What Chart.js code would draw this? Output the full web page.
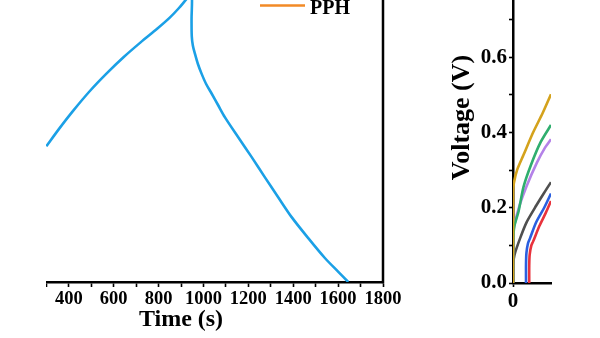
<!DOCTYPE html>
<html>
<head>
<meta charset="utf-8">
<script src="https://cdn.jsdelivr.net/npm/chart.js@4/dist/chart.umd.min.js"></script>
<style>
  html, body { margin: 0; padding: 0; background: #fff; width: 600px; height: 338px; overflow: hidden; position: relative; }
  #leftWrap { position: absolute; left: 46px; top: 0; width: 380px; height: 338px; overflow: hidden; }
  #rightWrap { position: absolute; left: 426px; top: 0; width: 174px; height: 338px; overflow: hidden; }
  canvas { position: absolute; left: 0; top: 0; }
</style>
</head>
<body>
<div id="leftWrap"><canvas id="gcdLeft" width="459" height="362"></canvas></div>
<div id="rightWrap"><canvas id="gcdRight" width="116" height="376"></canvas></div>
<script>
// ---- charge / discharge curve (left panel) ----
const leftTime = [300, 360, 420, 495, 570, 645, 720, 795, 850, 890, 925, 947, 947, 948, 953, 962, 975, 992, 1012, 1037, 1065, 1096, 1155, 1215, 1274, 1333, 1393, 1467, 1541, 1601, 1645];
const leftVoltage = [0.362, 0.411, 0.457, 0.510, 0.557, 0.600, 0.639, 0.676, 0.705, 0.730, 0.755, 0.77, 0.70, 0.655, 0.63, 0.609, 0.582, 0.555, 0.528, 0.502, 0.472, 0.439, 0.386, 0.333, 0.279, 0.226, 0.173, 0.117, 0.064, 0.027, 0.0];
const legendLabel = 'PPH';

// ---- charging curves (right panel) ----
const goldTime = [0, 0.5, 4, 19, 49, 94, 139, 178];
const goldVoltage = [0, 0.24, 0.265, 0.30, 0.34, 0.40, 0.452, 0.502];
const greenTime = [0, 1, 6, 26, 49, 85, 130, 178];
const greenVoltage = [0, 0.11, 0.15, 0.19, 0.255, 0.315, 0.375, 0.42];
const purpleTime = [0, 1, 7, 30, 64, 112, 146, 178];
const purpleVoltage = [0, 0.13, 0.155, 0.205, 0.258, 0.32, 0.356, 0.382];
const grayTime = [0, 1, 7, 34, 64, 109, 146, 178];
const grayVoltage = [0, 0.05, 0.075, 0.12, 0.162, 0.206, 0.24, 0.268];
const blueTime = [61, 61, 63, 70, 79, 109, 146, 178];
const blueVoltage = [0, 0.05, 0.08, 0.105, 0.118, 0.162, 0.2, 0.238];
const redTime = [76, 76, 78, 86, 94, 124, 154, 178];
const redVoltage = [0, 0.045, 0.075, 0.1, 0.11, 0.152, 0.187, 0.218];

const SERIF = "'Liberation Serif', 'Times New Roman', serif";
const pts = (xs, ys) => xs.map((x, i) => ({ x, y: ys[i] }));

// place the canvas so that the plot's lower-left corner lands on a given page point
function place(chart, wrapLeft, pageX, pageY) {
  const a = chart.chartArea;
  chart.canvas.style.left = (pageX - wrapLeft - a.left) + 'px';
  chart.canvas.style.top = (pageY - a.bottom) + 'px';
}

// right-hand frame line of the left panel
const frameRight = {
  id: 'frameRight',
  afterDraw(c) {
    const { ctx, chartArea: a } = c;
    ctx.save();
    ctx.strokeStyle = '#000';
    ctx.lineWidth = 2.5;
    ctx.beginPath();
    ctx.moveTo(a.right, a.top);
    ctx.lineTo(a.right, a.bottom + 1.25);
    ctx.stroke();
    ctx.restore();
  }
};

// legend entry in the upper right of the left panel
const legendEntry = {
  id: 'legendEntry',
  afterDraw(c) {
    const ds = c.data.datasets.find(d => d.label === legendLabel);
    if (!ds) return;
    const { ctx, chartArea: a } = c;
    ctx.save();
    ctx.strokeStyle = ds.borderColor;
    ctx.lineWidth = 2.7;
    ctx.beginPath();
    ctx.moveTo(a.right - 123, a.top + 23.5);
    ctx.lineTo(a.right - 78, a.top + 23.5);
    ctx.stroke();
    ctx.fillStyle = '#000';
    ctx.font = 'bold 20px ' + SERIF;
    ctx.textBaseline = 'alphabetic';
    ctx.textAlign = 'left';
    ctx.fillText(ds.label, a.right - 73, a.top + 31.5);
    ctx.restore();
  }
};

const left = new Chart(document.getElementById('gcdLeft'), {
  type: 'line',
  data: {
    datasets: [
      { label: 'charge-discharge', data: pts(leftTime, leftVoltage), borderColor: '#1ba0e6', borderWidth: 2.6, pointRadius: 0, tension: 0.3, fill: false },
      { label: legendLabel, data: [], borderColor: '#f28a26', borderWidth: 2.6, pointRadius: 0 }
    ]
  },
  options: {
    responsive: false,
    animation: false,
    devicePixelRatio: 1,
    layout: { padding: { left: 30, right: 25, top: 10, bottom: 0 } },
    plugins: { legend: { display: false }, tooltip: { enabled: false } },
    scales: {
      x: {
        type: 'linear', min: 0, max: 1800,
        afterFit(s) { s.height = 52; },
        ticks: {
          stepSize: 100, autoSkip: false, maxRotation: 0, padding: 1, color: '#000',
          font: { family: SERIF, weight: 'bold', size: 18.5 },
          callback: v => (v % 200 === 0 ? String(v) : '')
        },
        grid: { drawOnChartArea: false, drawTicks: true, tickLength: 5, tickColor: '#000', tickWidth: 1.6 },
        border: { display: true, color: '#000', width: 2.5 },
        title: { display: true, text: 'Time (s)', color: '#000', padding: 0, font: { family: SERIF, weight: 'bold', size: 24 } }
      },
      y: { display: false, min: 0, max: 0.8 }
    }
  },
  plugins: [frameRight, legendEntry]
});
place(left, 46, -21, 281.5);

const right = new Chart(document.getElementById('gcdRight'), {
  type: 'line',
  data: {
    datasets: [
      { label: 'gold', data: pts(goldTime, goldVoltage), borderColor: '#d4a21c' },
      { label: 'green', data: pts(greenTime, greenVoltage), borderColor: '#2fae6e' },
      { label: 'purple', data: pts(purpleTime, purpleVoltage), borderColor: '#b482e8' },
      { label: 'gray', data: pts(grayTime, grayVoltage), borderColor: '#4f4f4f' },
      { label: 'blue', data: pts(blueTime, blueVoltage), borderColor: '#2a5fe0' },
      { label: 'red', data: pts(redTime, redVoltage), borderColor: '#e8323c' }
    ].map(d => Object.assign(d, { borderWidth: 2.6, pointRadius: 0, tension: 0.25, fill: false }))
  },
  options: {
    responsive: false,
    animation: false,
    devicePixelRatio: 1,
    layout: { padding: { left: 10, right: 0, top: 15, bottom: 0 } },
    plugins: { legend: { display: false }, tooltip: { enabled: false } },
    scales: {
      x: {
        type: 'linear', min: 0, max: 178,
        afterFit(s) { s.height = 30; },
        ticks: {
          stepSize: 200, autoSkip: false, maxRotation: 0, padding: 2, color: '#000',
          font: { family: SERIF, weight: 'bold', size: 21 },
          callback: v => (v === 0 ? '0' : '')
        },
        grid: {
          drawOnChartArea: false, drawTicks: true, tickLength: 4, tickWidth: 1.6,
          tickColor: ctx => (ctx.tick && ctx.tick.value === 0 ? '#000' : 'rgba(0,0,0,0)')
        },
        border: { display: true, color: '#000', width: 2.5 }
      },
      y: {
        type: 'linear', min: 0, max: 0.88,
        afterFit(s) { s.width = 66; },
        ticks: {
          stepSize: 0.1, autoSkip: false, padding: 2, color: '#000',
          font: { family: SERIF, weight: 'bold', size: 21 },
          callback: v => (v < 0.85 && Math.round(v * 10) % 2 === 0 ? v.toFixed(1) : '')
        },
        grid: { drawOnChartArea: false, drawTicks: true, tickLength: 4, tickColor: '#000', tickWidth: 1.6 },
        border: { display: true, color: '#000', width: 2.5 },
        title: { display: true, text: 'Voltage (V)', color: '#000', padding: 0, font: { family: SERIF, weight: 'bold', size: 26 } }
      }
    }
  }
});
place(right, 426, 512.5, 283);
</script>
</body>
</html>
